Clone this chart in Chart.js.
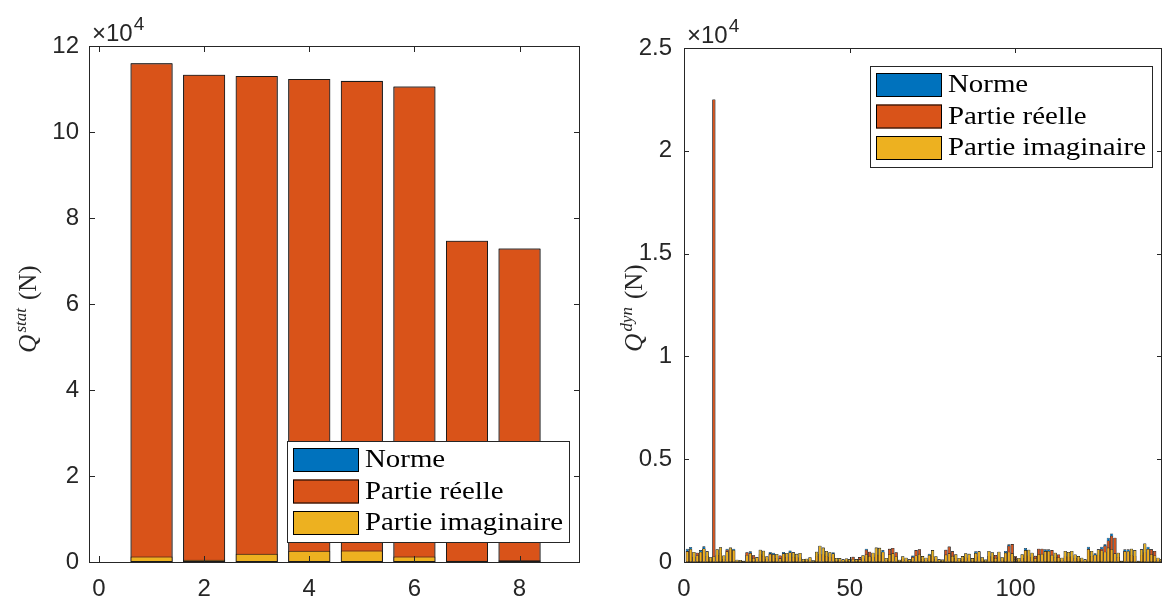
<!DOCTYPE html>
<html>
<head>
<meta charset="utf-8">
<script src="https://cdn.jsdelivr.net/npm/chart.js@4.4.0/dist/chart.umd.min.js"></script>
<style>
  body { margin: 0; background: #fff; width: 1163px; height: 603px; overflow: hidden; position: relative; }
  canvas { position: absolute; top: 0; }
  #statChart { left: 0; }
  #dynChart { left: 600px; }
</style>
</head>
<body>
<canvas id="statChart" width="600" height="603"></canvas>
<canvas id="dynChart" width="563" height="603"></canvas>
<script>
// series
const seriesNames = ['Norme', 'Partie réelle', 'Partie imaginaire'];
const seriesColors = ['#0072BD', '#D95319', '#EDB120'];

// left plot : Q stat
const statX = [1, 2, 3, 4, 5, 6, 7, 8];
const statNorme = [116010, 113300, 113020, 112330, 111890, 110610, 74700, 72900];
const statReel = [116000, 113300, 113000, 112300, 111860, 110600, 74700, 72900];
const statImag = [1300, 500, 1900, 2600, 2700, 1300, 300, 400];
const statXTicks = [0, 2, 4, 6, 8];
const statYTicks = [0, 20000, 40000, 60000, 80000, 100000, 120000];

// right plot : Q dyn
const dynNorme = [
  640, 730, 490, 450, 580, 760, 520, 230, 22500, 620,
  720, 320, 640, 700, 650, 110, 100, 60, 480, 520,
  330, 240, 600, 550, 280, 490, 450, 390, 320, 490,
  440, 560, 470, 400, 440, 150, 160, 230, 90, 500,
  790, 700, 540, 480, 480, 200, 190, 130, 170, 140,
  250, 140, 240, 330, 650, 500, 450, 700, 690, 580,
  200, 640, 680, 480, 110, 280, 210, 130, 320, 580,
  620, 290, 210, 400, 580, 280, 130, 120, 590, 750,
  520, 380, 200, 290, 430, 400, 190, 520, 520, 230,
  120, 540, 480, 340, 500, 230, 540, 860, 870, 280,
  200, 380, 680, 600, 450, 300, 650, 650, 615, 615,
  580, 450, 370, 210, 535, 490, 535, 370, 290, 210,
  130, 745, 535, 420, 615, 745, 860, 1180, 1390, 1180,
  450, 60, 615, 615, 650, 580, 60, 615, 900, 745,
  615, 535, 210, 150
];
const dynReel = [
  540, 600, 260, 450, 470, 650, 300, 120, 22500, 350,
  420, 150, 600, 610, 560, 60, 40, 30, 480, 450,
  330, 130, 380, 300, 150, 420, 360, 200, 320, 400,
  260, 460, 250, 220, 230, 70, 90, 110, 40, 280,
  400, 380, 290, 260, 380, 90, 100, 70, 80, 60,
  250, 70, 240, 180, 600, 500, 250, 360, 330, 480,
  100, 640, 680, 480, 50, 140, 110, 60, 270, 580,
  620, 150, 100, 320, 300, 140, 60, 50, 590, 750,
  520, 200, 100, 150, 230, 210, 90, 420, 280, 120,
  60, 300, 260, 340, 270, 110, 450, 800, 870, 280,
  100, 200, 560, 320, 240, 300, 650, 650, 520, 510,
  580, 240, 370, 100, 280, 260, 280, 190, 150, 110,
  60, 640, 290, 340, 330, 650, 800, 1050, 1280, 1180,
  240, 30, 520, 500, 340, 300, 30, 330, 480, 630,
  615, 535, 100, 80
];
const dynImag = [
  520, 640, 490, 330, 500, 660, 520, 230, 280, 620,
  720, 320, 520, 700, 590, 110, 100, 60, 340, 430,
  200, 240, 600, 550, 280, 400, 380, 390, 180, 420,
  440, 480, 470, 400, 440, 150, 160, 230, 90, 500,
  790, 700, 540, 480, 420, 200, 190, 130, 170, 140,
  150, 140, 130, 330, 380, 300, 450, 700, 690, 500,
  200, 380, 420, 280, 110, 280, 210, 130, 220, 320,
  400, 290, 210, 340, 580, 280, 130, 120, 360, 420,
  300, 380, 200, 290, 430, 400, 190, 440, 520, 230,
  120, 540, 480, 200, 500, 230, 460, 500, 420, 150,
  200, 380, 580, 600, 450, 170, 380, 400, 530, 540,
  350, 450, 220, 210, 535, 490, 535, 370, 290, 210,
  130, 620, 535, 360, 615, 560, 500, 700, 620, 420,
  450, 60, 530, 540, 650, 580, 60, 615, 900, 640,
  380, 320, 210, 150
];
const dynX = Array.from({ length: dynNorme.length }, (_, i) => i + 1);
const dynXTicks = [0, 50, 100];
const dynYTicks = [0, 5000, 10000, 15000, 20000, 25000];

const axisColor = '#262626';
const sansFont = '"Liberation Sans", Arial, sans-serif';
const serifFont = '"Liberation Serif", "Times New Roman", serif';

function makeSets(xs, norme, reel, imag, bw, bp) {
  return [norme, reel, imag].map((arr, k) => ({
    label: seriesNames[k],
    data: xs.map((x, i) => ({ x: x, y: arr[i] })),
    backgroundColor: seriesColors[k],
    borderColor: '#1a1a1a',
    borderWidth: bw,
    borderSkipped: false,
    grouped: false,
    order: 3 - k,   // Norme drawn first, imaginary part on top
    barPercentage: bp,
    categoryPercentage: 1
  }));
}

// draws the MATLAB-like box, inner ticks, exponent, y label and legend
const matlabPlugin = {
  id: 'matlab',
  afterDatasetsDraw(chart, args, o) {
    const { ctx, chartArea: a, scales } = chart;
    ctx.save();
    ctx.strokeStyle = axisColor;
    ctx.lineWidth = 1;
    ctx.beginPath();
    scales.x.ticks.forEach(t => {
      const px = Math.round(scales.x.getPixelForValue(t.value)) + 0.5;
      ctx.moveTo(px, a.bottom); ctx.lineTo(px, a.bottom - o.tick);
      ctx.moveTo(px, a.top); ctx.lineTo(px, a.top + o.tick);
    });
    scales.y.ticks.forEach(t => {
      const py = Math.round(scales.y.getPixelForValue(t.value)) + 0.5;
      ctx.moveTo(a.left, py); ctx.lineTo(a.left + o.tick, py);
      ctx.moveTo(a.right, py); ctx.lineTo(a.right - o.tick, py);
    });
    ctx.stroke();
    ctx.strokeRect(Math.round(a.left) + 0.5, Math.round(a.top) + 0.5,
      Math.round(a.right - a.left) - 1, Math.round(a.bottom - a.top));

    // x10^4
    ctx.fillStyle = axisColor;
    ctx.textBaseline = 'alphabetic';
    ctx.font = '24px ' + sansFont;
    const ex = a.left + 3;
    ctx.fillText('\u00d710', ex, a.top - 5);
    const w = ctx.measureText('\u00d710').width;
    ctx.font = '19px ' + sansFont;
    ctx.fillText('4', ex + w + 1, a.top - 16);

    // y label  Q^{sup} (N)
    ctx.translate(o.titleX, o.titleY);
    ctx.rotate(-Math.PI / 2);
    const fQ = 'italic 25px ' + serifFont;
    const fS = 'italic 17px ' + serifFont;
    const fN = '25px ' + serifFont;
    ctx.font = fQ; const wQ = ctx.measureText('Q').width;
    ctx.font = fS; const wS = ctx.measureText(o.sup).width;
    ctx.font = fN; const wN = ctx.measureText('(N)').width;
    const total = wQ + 2 + wS + 8 + wN;
    let x = -total / 2;
    ctx.font = fQ; ctx.fillText('Q', x, 0); x += wQ + 2;
    ctx.font = fS; ctx.fillText(o.sup, x, -10); x += wS + 8;
    ctx.font = fN; ctx.fillText('(N)', x, 0);
    ctx.restore();
  },
  afterDraw(chart, args, o) {
    const ctx = chart.ctx;
    const L = o.legend;
    ctx.save();
    ctx.fillStyle = '#fff';
    ctx.fillRect(L.x, L.y, L.w, L.h);
    ctx.strokeStyle = '#262626';
    ctx.lineWidth = 1;
    ctx.strokeRect(L.x + 0.5, L.y + 0.5, L.w, L.h);
    ctx.font = '25px ' + serifFont;
    const sx = L.textW / ctx.measureText('Partie imaginaire').width;
    seriesNames.forEach((name, k) => {
      const cy = L.y + L.first + k * L.step;
      ctx.fillStyle = seriesColors[k];
      ctx.fillRect(L.x + L.sw0, cy - L.sh / 2, L.sw, L.sh);
      ctx.strokeStyle = '#000';
      ctx.strokeRect(L.x + L.sw0 + 0.5, cy - L.sh / 2 + 0.5, L.sw - 1, L.sh - 1);
      ctx.fillStyle = '#000';
      ctx.save();
      ctx.translate(L.x + L.tx, cy + 7);
      ctx.scale(sx, 1);
      ctx.fillText(name, 0, 0);
      ctx.restore();
    });
    ctx.restore();
  }
};

function makeChart(id, xs, norme, reel, imag, opt) {
  return new Chart(document.getElementById(id), {
    type: 'bar',
    data: { datasets: makeSets(xs, norme, reel, imag, opt.bw, opt.bp) },
    options: {
      responsive: false,
      animation: false,
      devicePixelRatio: 1,
      layout: { padding: { top: opt.top, right: opt.right, left: 0, bottom: 0 } },
      plugins: {
        legend: { display: false },
        tooltip: { enabled: false },
        matlab: opt.matlab
      },
      scales: {
        x: {
          type: 'linear',
          offset: false,
          min: opt.xmin, max: opt.xmax,
          grid: { display: false, drawTicks: false },
          border: { display: false },
          afterBuildTicks: s => { s.ticks = opt.xticks.map(v => ({ value: v })); },
          afterFit: s => { s.height = 603 - opt.bottom; },
          ticks: { color: axisColor, font: { family: sansFont, size: 24 }, padding: 13, maxRotation: 0, autoSkip: false }
        },
        y: {
          min: 0, max: opt.ymax,
          grid: { display: false, drawTicks: false },
          border: { display: false },
          afterBuildTicks: s => { s.ticks = opt.yticks.map(v => ({ value: v })); },
          afterFit: s => { s.width = opt.left; },
          ticks: {
            color: axisColor, font: { family: sansFont, size: 24 }, padding: opt.ypad,
            callback: v => String(v / 10000)
          }
        }
      }
    },
    plugins: [matlabPlugin]
  });
}

makeChart('statChart', statX, statNorme, statReel, statImag, {
  bw: 1, bp: 0.8, top: 46, right: 20, left: 89, bottom: 562,
  xmin: -0.19, xmax: 9.15, xticks: statXTicks, ymax: 120000, yticks: statYTicks, ypad: 10,
  matlab: {
    tick: 6, sup: 'stat', titleX: 36, titleY: 309,
    legend: { x: 287, y: 441, w: 282, h: 101, first: 19, step: 31.5, sw0: 6, sw: 66, sh: 24, tx: 78, textW: 198 }
  }
});

makeChart('dynChart', dynX, dynNorme, dynReel, dynImag, {
  bw: 0.6, bp: 0.95, top: 48, right: 1, left: 84, bottom: 562,
  xmin: 0, xmax: 144.2, xticks: dynXTicks, ymax: 25000, yticks: dynYTicks, ypad: 12,
  matlab: {
    tick: 5, sup: 'dyn', titleX: 42, titleY: 308,
    legend: { x: 270, y: 66, w: 282, h: 101, first: 19, step: 31.5, sw0: 6, sw: 66, sh: 24, tx: 78, textW: 198 }
  }
});
</script>
</body>
</html>
